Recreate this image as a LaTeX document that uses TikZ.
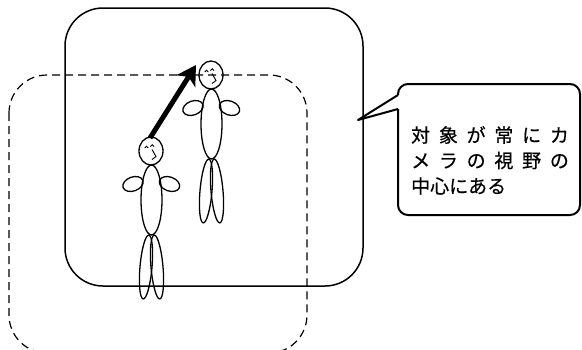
\documentclass[tikz,border=0pt]{standalone}
\usepackage{fontspec}
\usetikzlibrary{arrows.meta}
\newfontfamily\jpfont[FakeBold=0.5]{Noto Sans CJK JP}
\newfontfamily\jpwide[FakeBold=0.5,LetterSpace=46]{Noto Sans CJK JP}

\tikzset{
  figline/.style={line width=1.3pt},
  faceline/.style={line width=0.9pt},
  frame/.style={line width=1.5pt, rounded corners=38pt},
  viewframe/.style={line width=1.2pt, dash pattern=on 8pt off 5pt, rounded corners=38pt},
  balloon/.style={line width=2pt, line join=round},
  balloontext/.style={anchor=west, inner sep=0pt, font=\fontsize{19}{25}\selectfont},
  motion/.style={line width=5pt, -{Stealth[length=19pt,width=22pt,inset=5pt]}},
  pics/person/.style={code={
    % head and face
    \draw[figline] (0,0) ellipse[x radius=12, y radius=14];
    \draw[faceline] (-6.3,-3) arc[start angle=180, end angle=360, radius=1.8];
    \draw[faceline] (-0.5,-4.5) arc[start angle=180, end angle=360, radius=1.8];
    \draw[faceline] (1,-1.5) -- (5,5.5) -- (1,8.5);
    % body
    \draw[figline] (0.5,49) ellipse[x radius=10.5, y radius=35];
    % arms
    \draw[figline, shift={(-18,33)}, rotate=20] (0,0) ellipse[x radius=10.5, y radius=7];
    \draw[figline, shift={(18.5,33)}, rotate=-20] (0,0) ellipse[x radius=10.5, y radius=7];
    % legs
    \draw[figline, shift={(-5,116)}, rotate=-5] (0,0) ellipse[x radius=6, y radius=32];
    \draw[figline, shift={(6,116)}, rotate=5] (0,0) ellipse[x radius=6, y radius=32];
  }}
}

\begin{document}
\begin{tikzpicture}[x=1pt, y=-1pt]
\useasboundingbox (0,0) rectangle (582,349);

% camera view before and after the move
\draw[viewframe] (9,75) rectangle (307,353);
\draw[frame] (65,8) rectangle (363,286);

% the subject in two positions
\pic at (151,151) {person};
\pic at (211,75) {person};

% motion of the subject
\coordinate (start) at (150,138);
\coordinate (goal) at (196,65);
\draw[motion] (start) -- (goal);

% speech balloon
\coordinate (tip) at (358,120);
\draw[balloon, rounded corners=10pt] (398,109) -- (398,215) -- (580,215) -- (580,84) -- (398,84) -- (398,95);
\draw[balloon] (398,95) -- (tip) -- (398,109);

\node[balloontext] (line1) at (411,135) {\jpwide 対象が常にカ};
\node[balloontext] (line2) at (411,160.5) {\jpwide メラの視野の};
\node[balloontext] (line3) at (411,186) {\jpfont 中心にある};
\end{tikzpicture}
\end{document}
